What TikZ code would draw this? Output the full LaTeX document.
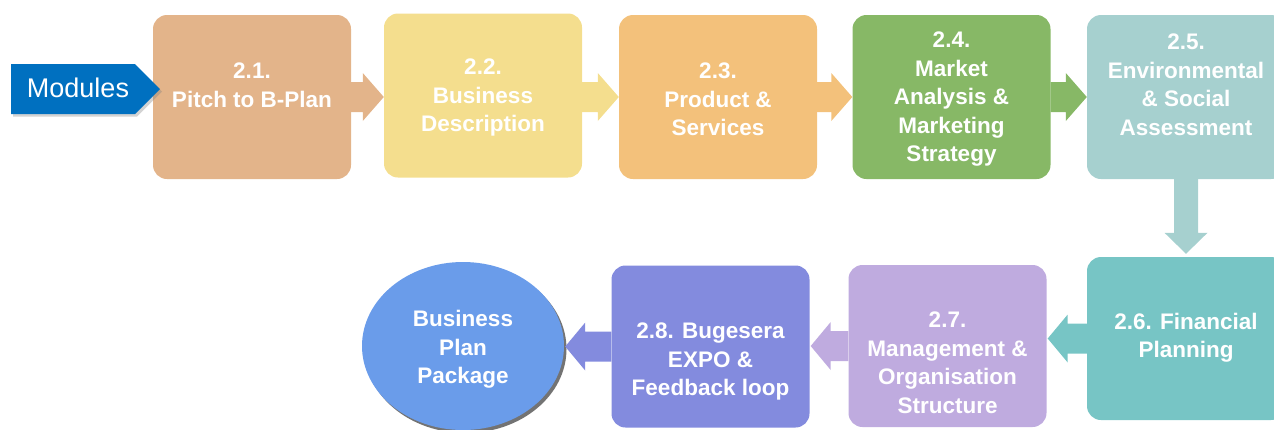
\documentclass[tikz,border=0pt]{standalone}
\usepackage{fontspec}
\setmainfont{Liberation Sans}
\usetikzlibrary{calc,shapes.geometric,shadows}

\definecolor{modblue}{HTML}{0070C0}
\definecolor{pitchtan}{HTML}{E3B48A}
\definecolor{descyellow}{HTML}{F4DE8E}
\definecolor{prodorange}{HTML}{F3C17B}
\definecolor{mktgreen}{HTML}{87B866}
\definecolor{envteal}{HTML}{A6D0CF}
\definecolor{finteal}{HTML}{77C5C5}
\definecolor{mgmtlilac}{HTML}{BFABDF}
\definecolor{expoblue}{HTML}{838BDE}
\definecolor{planblue}{HTML}{6A9CEA}

\begin{document}
\begin{tikzpicture}[x=1pt,y=-1pt,
	box/.style={rounded corners=14pt,minimum width=198pt,minimum height=164pt,inner sep=0pt},
	lbl/.style={text=white,align=center,yshift=-2.5pt,font=\bfseries\fontsize{22.5}{28.5}\selectfont}]
	\useasboundingbox (0,0) rectangle (1274,429);
	%\draw[help lines] (0,0) grid[step=50] (1274,429);
	% module boxes, top row then bottom row
	\node[box,fill=pitchtan] (b21) at (252,97) {};
	\node[box,fill=descyellow] (b22) at (483,95.5) {};
	\node[box,fill=prodorange] (b23) at (718,97) {};
	\node[box,fill=mktgreen] (b24) at (951.5,97) {};
	\node[box,fill=envteal] (b25) at (1186,97) {};
	\node[box,fill=finteal,minimum height=163pt] (b26) at (1186,338.5) {};
	\node[box,fill=mgmtlilac,minimum height=162pt] (b27) at (947.5,346) {};
	\node[box,fill=expoblue,minimum height=162pt] (b28) at (710.5,346.5) {};
	% block arrows between the boxes
	\foreach \a/\b/\c in {b21/b22/pitchtan,b22/b23/descyellow,b23/b24/prodorange,b24/b25/mktgreen}
		\fill[\c] let \p1=(\a.east), \p2=(\b.west) in (\x1,-97pt+15pt) -- (\x2-21pt,-97pt+15pt)
			-- (\x2-21pt,-97pt+24pt) -- (\x2,-97pt) -- (\x2-21pt,-97pt-24pt) -- (\x2-21pt,-97pt-15pt)
			-- (\x1,-97pt-15pt) -- cycle;
	\fill[envteal] let \p1=(b25.south), \p2=(b26.north) in (\x1-12pt,\y1) -- (\x1-12pt,\y2+24pt)
		-- (\x1-21.5pt,\y2+24pt) -- (\x1,\y2+3pt) -- (\x1+21.5pt,\y2+24pt) -- (\x1+12pt,\y2+24pt)
		-- (\x1+12pt,\y1) -- cycle;
	\node[ellipse,fill=planblue,minimum width=202pt,minimum height=168pt,
		drop shadow={shadow xshift=2.5pt,shadow yshift=-3pt,fill=black,opacity=.55}] (pkg) at (463,346) {};
	\foreach \a/\b/\c in {b26/b27/finteal,b27/b28/mgmtlilac,b28/pkg/expoblue}
		\fill[\c] let \p1=(\a.west), \p2=(\b.east) in (\x1,\y1+15pt) -- (\x2+21pt,\y1+15pt)
			-- (\x2+21pt,\y1+24pt) -- (\x2+1pt,\y1) -- (\x2+21pt,\y1-24pt) -- (\x2+21pt,\y1-15pt)
			-- (\x1,\y1-15pt) -- cycle;
	% entry tag
	\path[fill=modblue,drop shadow={shadow xshift=2pt,shadow yshift=-2.5pt,opacity=.35}]
		(11,64) -- (135,64) -- (160,89) -- (135,114) -- (11,114) -- cycle;
	\node[text=white,font=\fontsize{27}{30}\selectfont] (mod) at (78,88) {Modules};
	% box texts
	\node[lbl] (t21) at (252,83) {2.1.\\Pitch to B-Plan};
	\node[lbl] (t22) at (483,95) {2.2.\\Business\\Description};
	\node[lbl] (t23) at (718,97) {2.3.\\Product \&\\Services};
	\node[lbl] (t24) at (951.5,97) {2.4.\\Market\\Analysis \&\\Marketing\\Strategy};
	\node[lbl] (t25) at (1186,82) {2.5.\\Environmental\\\& Social\\Assessment};
	\node[lbl] (t26) at (1186,335) {2.6. Financial\\Planning};
	\node[lbl] (t27) at (947.5,360) {2.7.\\Management \&\\Organisation\\Structure};
	\node[lbl] (t28) at (710.5,359) {2.8. Bugesera\\EXPO \&\\Feedback loop};
	\node[lbl] (tpkg) at (463,347) {Business\\Plan\\Package};
\end{tikzpicture}
\end{document}
